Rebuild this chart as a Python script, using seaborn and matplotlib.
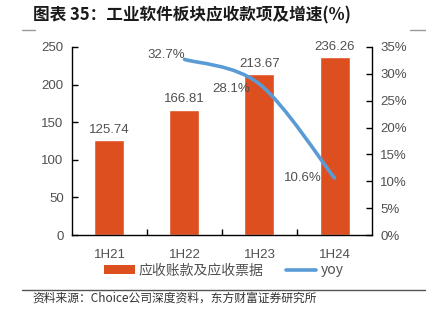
import matplotlib
matplotlib.use("Agg")
import matplotlib.pyplot as plt
import seaborn as sns
import pandas as pd
from matplotlib.path import Path
from matplotlib.patches import PathPatch, Patch
from matplotlib.lines import Line2D
from matplotlib.ticker import FuncFormatter, FixedLocator

# ---- data ----
periods = ["1H21", "1H22", "1H23", "1H24"]
receivables = [125.74, 166.81, 213.67, 236.26]
yoy_periods = ["1H22", "1H23", "1H24"]
yoy = [32.7, 28.1, 10.6]
bar_name = "应收账款及应收票据"
line_name = "yoy"
title_text = "图表 35：工业软件板块应收款项及增速(%)"
source_text = "资料来源：Choice公司深度资料，东方财富证券研究所"

sns.set_theme(style="white")
plt.rcParams['font.family'] = ['Liberation Sans', 'Noto Sans CJK SC', 'DejaVu Sans']

BAR_C = "#DE4F1F"
LINE_C = "#5B9BD5"
GRAY = "#505050"

fig = plt.figure(figsize=(4.27, 3.23), dpi=100)
ax = fig.add_axes([0.1686, 0.2724, 0.7026, 0.5821])

df = pd.DataFrame({"period": periods, "value": receivables})
sns.barplot(data=df, x="period", y="value", color=BAR_C, saturation=1,
            width=0.4, ax=ax)
ax.set_xlim(-0.5, 3.5)
ax.set_ylim(0, 250)
ax.set_yticks(range(0, 251, 50))
ax.set_xlabel("")
ax.set_ylabel("")
for c in ax.containers:
    ax.bar_label(c, fmt="%.2f", padding=3, color=GRAY, fontsize=9.5)

ax.tick_params(axis="y", direction="in", length=4, width=1, colors="black",
               labelcolor=GRAY, labelsize=9.5, pad=6)
ax.tick_params(axis="x", which="major", length=0, labelcolor=GRAY,
               labelsize=9.5, pad=10)
ax.xaxis.set_minor_locator(FixedLocator([0.5, 1.5, 2.5]))
ax.tick_params(axis="x", which="minor", direction="in", length=4, width=1,
               colors="black", bottom=True)
for s in ["left", "bottom"]:
    ax.spines[s].set_color("black")
    ax.spines[s].set_linewidth(1)
ax.spines["top"].set_visible(False)
ax.spines["right"].set_visible(False)

# ---- secondary axis ----
ax2 = ax.twinx()
ax2.set_ylim(0, 35)
ax2.set_yticks(range(0, 36, 5))
ax2.yaxis.set_major_formatter(FuncFormatter(lambda v, p: f"{int(v)}%"))
ax2.tick_params(axis="y", direction="in", length=4, width=1, colors="black",
                labelcolor=GRAY, labelsize=9.5, pad=6)
for s in ["left", "top", "bottom"]:
    ax2.spines[s].set_visible(False)
ax2.spines["right"].set_color("black")
ax2.spines["right"].set_linewidth(1)
ax2.grid(False)
ax.grid(False)

# smooth curve (Excel-like smoothing) through the yoy points
xs = [periods.index(p) for p in yoy_periods]
pts = list(zip(xs, yoy))
verts = [pts[0]]
codes = [Path.MOVETO]
for i in range(len(pts) - 1):
    p0 = pts[i - 1] if i > 0 else pts[i]
    p1 = pts[i]
    p2 = pts[i + 1]
    p3 = pts[i + 2] if i + 2 < len(pts) else pts[i + 1]
    c1 = (p1[0] + (p2[0] - p0[0]) / 6, p1[1] + (p2[1] - p0[1]) / 6)
    c2 = (p2[0] - (p3[0] - p1[0]) / 6, p2[1] - (p3[1] - p1[1]) / 6)
    verts += [c1, c2, p2]
    codes += [Path.CURVE4] * 3
ax2.add_patch(PathPatch(Path(verts, codes), facecolor="none",
                        edgecolor=LINE_C, lw=2.6, capstyle="round"))

offsets = [(-18, 4), (-28, -5), (-32, 0)]
for x, v, off in zip(xs, yoy, offsets):
    ax2.annotate(f"{v:.1f}%", (x, v), xytext=off, textcoords="offset pixels",
                 ha="center", va="center", color=GRAY, fontsize=9.5)

# ---- legend ----
handles = [Patch(facecolor=BAR_C, edgecolor="none"),
           Line2D([0], [0], color=LINE_C, lw=2.6)]
fig.legend(handles, [bar_name, line_name], loc="center",
           bbox_to_anchor=(0.524, 0.163), ncol=2, frameon=False,
           handlelength=2.2, handleheight=0.6, columnspacing=1.6,
           handletextpad=0.3,
           prop={"family": ["Noto Sans CJK SC", "DejaVu Sans"], "size": 10})
for t in fig.legends[0].get_texts():
    t.set_color(GRAY)

# ---- title, rules and source ----
fig.text(0.077, 0.951, title_text, fontsize=12, fontweight="bold",
         color="#1a1a1a", family=["Noto Sans CJK SC", "DejaVu Sans"],
         va="center", ha="left")
fig.add_artist(Line2D([0.052, 0.083], [0.907, 0.907], color="#9a9a9a", lw=1))
fig.add_artist(Line2D([0.96, 1.0], [0.907, 0.907], color="#9a9a9a", lw=1))
fig.add_artist(Line2D([0.052, 1.0], [0.102, 0.102], color="#555555", lw=1))
fig.text(0.077, 0.077, source_text, fontsize=8.5, color="#333333",
         family=["Noto Sans CJK SC", "DejaVu Sans"], va="center", ha="left")

fig.savefig("out.png", dpi=100, facecolor="white")
